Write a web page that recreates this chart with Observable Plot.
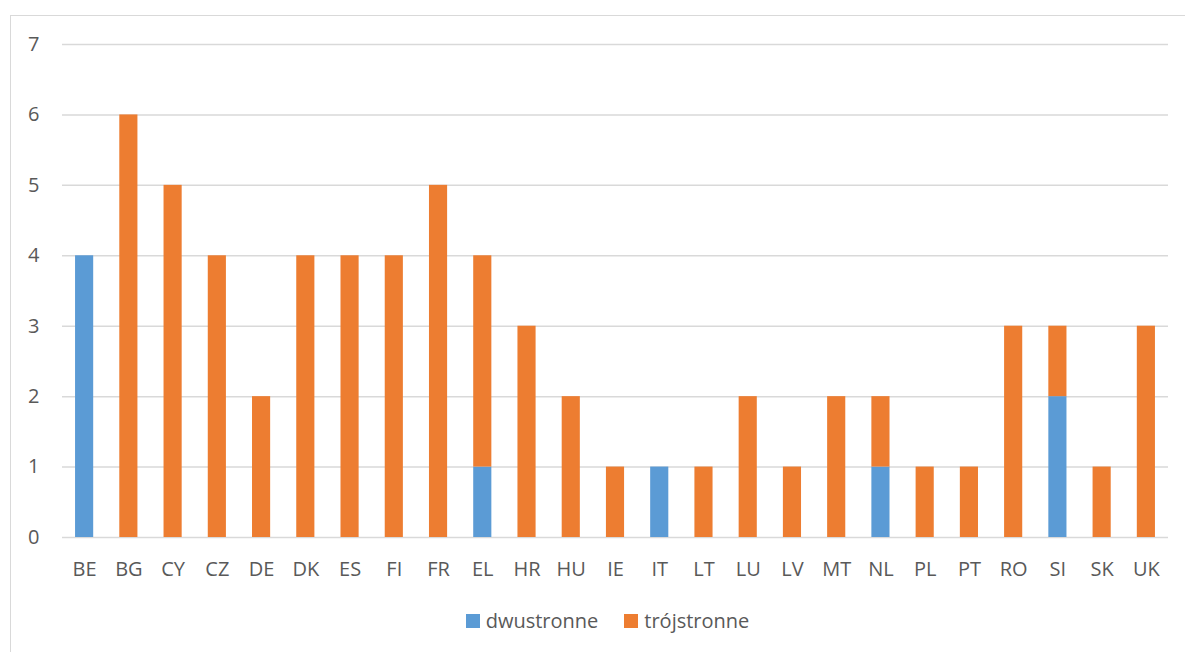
<!DOCTYPE html>
<html>
<head>
<meta charset="utf-8">
<script src="https://cdn.jsdelivr.net/npm/d3@7"></script>
<script src="https://cdn.jsdelivr.net/npm/@observablehq/plot@0.6"></script>
<style>
  html, body { margin: 0; padding: 0; background: #fff; }
  #wrap { position: relative; width: 1185px; height: 652px; overflow: hidden; font-family: "Open Sans", sans-serif; }
  #frame { position: absolute; left: 10px; top: 15px; width: 1190px; height: 700px; border: 1.5px solid #d9d9d9; box-sizing: border-box; }
  #chart { position: absolute; left: 0; top: 0; }
  #chart svg text { font-size: 20px !important; fill: #595959; }
  #legend { position: absolute; top: 607px; left: 0; width: 1185px; display: flex; justify-content: center; gap: 26px; font-size: 20px; color: #595959; padding-left: 30px; box-sizing: border-box; }
  #legend span.item { display: flex; align-items: center; gap: 6px; }
  #legend span.sw { display: inline-block; width: 14px; height: 14px; }
</style>
</head>
<body>
<div id="wrap">
  <div id="frame"></div>
  <div id="chart"></div>
  <div id="legend"></div>
</div>
<script>
const countries = ["BE","BG","CY","CZ","DE","DK","ES","FI","FR","EL","HR","HU","IE","IT","LT","LU","LV","MT","NL","PL","PT","RO","SI","SK","UK"];
const dwustronne = [4,0,0,0,0,0,0,0,0,1,0,0,0,1,0,0,0,0,1,0,0,0,2,0,0];
const trojstronne = [0,6,5,4,2,4,4,4,5,3,3,2,1,0,1,2,1,2,1,1,1,3,1,1,3];
const seriesNames = ["dwustronne","trójstronne"];
const seriesColors = ["#5b9bd5","#ed7d31"];
const yTicks = [0,1,2,3,4,5,6,7];

const rows = [];
countries.forEach((c, i) => rows.push({country: c, series: seriesNames[0], value: dwustronne[i]}));
countries.forEach((c, i) => rows.push({country: c, series: seriesNames[1], value: trojstronne[i]}));

const chart = Plot.plot({
  width: 1185,
  height: 600,
  marginLeft: 62,
  marginRight: 17,
  marginTop: 44,
  marginBottom: 63,
  style: {fontFamily: "Open Sans, sans-serif", fontSize: "20px", color: "#595959", background: "transparent"},
  x: {domain: countries, paddingInner: 0.59, paddingOuter: 0.295, round: false, label: null},
  y: {domain: [0, 7], label: null},
  color: {domain: seriesNames, range: seriesColors},
  marks: [
    Plot.gridY(yTicks, {stroke: "#d9d9d9", strokeOpacity: 1, strokeWidth: 1.5}),
    Plot.barY(rows, Plot.stackY({x: "country", y: "value", fill: "series", order: seriesNames})),
    Plot.axisX({tickSize: 0, tickPadding: 24, label: null}),
    Plot.axisY(yTicks, {tickSize: 0, tickPadding: 23, tickFormat: d3.format("d"), label: null})
  ]
});
document.getElementById("chart").appendChild(chart);

const legend = document.getElementById("legend");
seriesNames.forEach((n, i) => {
  const item = document.createElement("span");
  item.className = "item";
  const sw = document.createElement("span");
  sw.className = "sw";
  sw.style.background = seriesColors[i];
  item.appendChild(sw);
  item.appendChild(document.createTextNode(n));
  legend.appendChild(item);
});
</script>
</body>
</html>
